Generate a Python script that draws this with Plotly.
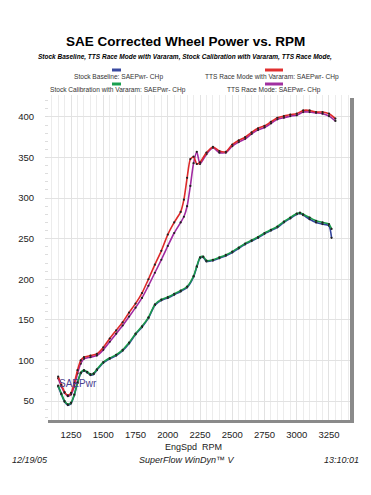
import plotly.graph_objects as go

# ---- data ----
rpm_upper = [1150, 1175, 1200, 1225, 1250, 1275, 1300, 1325, 1350, 1400, 1450, 1500, 1550, 1600,
             1650, 1700, 1750, 1800, 1850, 1900, 1950, 2000, 2050, 2100, 2125, 2150, 2175, 2200,
             2225, 2250, 2300, 2350, 2400, 2450, 2500, 2550, 2600, 2650, 2700, 2750, 2800, 2850,
             2900, 2950, 3000, 3050, 3100, 3150, 3200, 3250, 3300]
tts_vararam = [80, 70, 61, 57, 60, 72, 88, 100, 104, 106, 108, 116, 127, 137,
               147, 159, 170, 183, 200, 218, 235, 255, 270, 283, 298, 325, 348, 351,
               342, 344, 356, 363, 358, 357, 366, 371, 375, 381, 386, 389, 394, 399,
               401, 403, 404, 408, 408, 406, 406, 404, 398]
tts_race = [78, 68, 60, 56, 58, 68, 84, 96, 102, 104, 106, 113, 123, 133,
            143, 154, 165, 177, 192, 208, 224, 241, 257, 270, 277, 290, 315, 343,
            357, 342, 354, 362, 356, 356, 364, 369, 373, 379, 384, 387, 392, 397,
            399, 401, 402, 406, 406, 405, 404, 401, 395]

rpm_lower = [1150, 1175, 1200, 1225, 1250, 1275, 1300, 1325, 1350, 1375, 1400, 1425, 1450, 1500,
             1550, 1600, 1650, 1700, 1750, 1800, 1850, 1900, 1950, 2000, 2050, 2100, 2150, 2200,
             2225, 2250, 2275, 2300, 2350, 2400, 2450, 2500, 2550, 2600, 2650, 2700, 2750, 2800,
             2850, 2900, 2950, 3000, 3025, 3050, 3100, 3150, 3200, 3250, 3270]
stock_baseline = [68, 58, 49, 45, 47, 57, 72, 84, 87, 85, 82, 83, 88, 97,
                  102, 106, 112, 121, 132, 141, 152, 168, 174, 177, 181, 185, 190, 203,
                  215, 226, 227, 222, 223, 226, 229, 233, 238, 243, 247, 251, 256, 260,
                  264, 270, 275, 280, 281, 279, 274, 270, 268, 266, 251]
stock_cal_vararam = [69, 59, 50, 46, 48, 58, 73, 85, 88, 86, 83, 84, 89, 98,
                     103, 107, 113, 122, 133, 142, 153, 169, 175, 178, 182, 186, 191, 204,
                     216, 227, 228, 223, 224, 227, 230, 234, 239, 244, 248, 252, 257, 261,
                     265, 271, 276, 281, 282, 280, 276, 272, 270, 268, 262]

x_ticks = [1250, 1500, 1750, 2000, 2250, 2500, 2750, 3000, 3250]
y_ticks = [50, 100, 150, 200, 250, 300, 350, 400]

series = [
    ("Stock Baseline: SAEPwr- CHp", rpm_lower, stock_baseline, "#33449c"),
    ("Stock Calibration with Vararam: SAEPwr- CHp", rpm_lower, stock_cal_vararam, "#1a9a4a"),
    ("TTS Race Mode: SAEPwr- CHp", rpm_upper, tts_race, "#a02aa0"),
    ("TTS Race Mode with Vararam: SAEPwr- CHp", rpm_upper, tts_vararam, "#dd2a2a"),
]

FONT = "Liberation Sans, Arial, sans-serif"
# the page body has an 8px margin, so the figure is made 16px smaller
W, H = 355, 479
L, R, T, B = 37, 13, 87, 67
PW, PH = W - L - R, H - T - B


def px_x(p):  # p: pixel position in the 371x495 window
    return (p - 8 - L) / PW


def px_y(p):
    return (H - B - (p - 8)) / PH


fig = go.Figure()
for name, xs, ys, col in series:
    fig.add_trace(go.Scatter(
        x=xs, y=ys, name=name, mode="lines+markers",
        line=dict(color=col, width=1.6, shape="spline", smoothing=0.6),
        marker=dict(color="#202020", size=2.2),
        showlegend=False, hoverinfo="x+y+name"))

fig.add_annotation(x=1140, y=72, text="SAEPwr", showarrow=False, xanchor="left", yanchor="middle",
                   font=dict(family=FONT, size=10, color="#4a3f90"))

legend_items = [
    ("Stock Baseline: SAEPwr- CHp", "#3a4aa0", 118, 77, 112, 121, 70),
    ("TTS Race Mode with Vararam: SAEPwr- CHp", "#e03030", 272, 77, 265, 283, 70),
    ("Stock Calibration with Vararam: SAEPwr- CHp", "#1aa050", 118, 90, 112, 121, 84),
    ("TTS Race Mode: SAEPwr- CHp", "#a030a0", 274, 90, 265, 283, 84),
]
for text, col, cx, cy, bx0, bx1, by in legend_items:
    fig.add_annotation(x=px_x(cx), y=px_y(cy), xref="paper", yref="paper", text=text,
                       xanchor="center", yanchor="middle",
                       showarrow=False, font=dict(family=FONT, size=6.6, color="#333333"))
    fig.add_shape(type="rect", xref="paper", yref="paper", x0=px_x(bx0), x1=px_x(bx1),
                  y0=px_y(by + 1.5), y1=px_y(by - 1.5), fillcolor=col, line=dict(width=0))

# shadow border (right and bottom)
fig.add_shape(type="rect", xref="paper", yref="paper", x0=px_x(350), x1=px_x(354),
              y0=px_y(423), y1=px_y(98), fillcolor="#8a8a8a", line=dict(width=0), layer="above")
fig.add_shape(type="rect", xref="paper", yref="paper", x0=px_x(48), x1=px_x(354),
              y0=px_y(423), y1=px_y(420), fillcolor="#8a8a8a", line=dict(width=0), layer="above")


def text_at(cx, cy, text, size, xanchor="center", color="#222222"):
    fig.add_annotation(x=px_x(cx), y=px_y(cy), xref="paper", yref="paper", text=text,
                       xanchor=xanchor, yanchor="middle", showarrow=False,
                       font=dict(family=FONT, size=size, color=color))


text_at(185, 42, "<b>SAE Corrected Wheel Power vs. RPM</b>", 13.5, color="#000000")
text_at(185, 57, "<b><i>Stock Baseline, TTS Race Mode with Vararam, Stock Calibration with Vararam, TTS Race Mode,</i></b>",
        6.5, color="#000000")
text_at(193, 447, "EngSpd  RPM", 9)
text_at(10, 460, "<i>12/19/05</i>", 9, xanchor="left")
text_at(186, 460, "<i>SuperFlow WinDyn™ V</i>", 9)
text_at(361, 460, "<i>13:10:01</i>", 9, xanchor="right")

fig.update_layout(
    width=W, height=H,
    margin=dict(l=L, r=R, t=T, b=B, pad=0),
    paper_bgcolor="white", plot_bgcolor="white",
    font=dict(family=FONT, size=9.5, color="#222222"),
    showlegend=False,
)
fig.update_xaxes(range=[1048, 3413], tickvals=x_ticks, showgrid=True, gridcolor="#e2e2e2",
                 gridwidth=1, zeroline=False, showline=False, ticks="outside", ticklen=6,
                 tickcolor="white", automargin=False,
                 minor=dict(dtick=50, tick0=1050, showgrid=True, gridcolor="#ececec", gridwidth=1))
fig.update_yaxes(range=[26.6, 427], tickvals=y_ticks, showgrid=True, gridcolor="#e2e2e2",
                 gridwidth=1, zeroline=False, showline=False, ticks="outside", ticklen=8,
                 tickcolor="white", automargin=False,
                 minor=dict(dtick=10, ticks="inside", ticklen=3, tickcolor="#dddddd", showgrid=False))

fig.write_html("out.html")
